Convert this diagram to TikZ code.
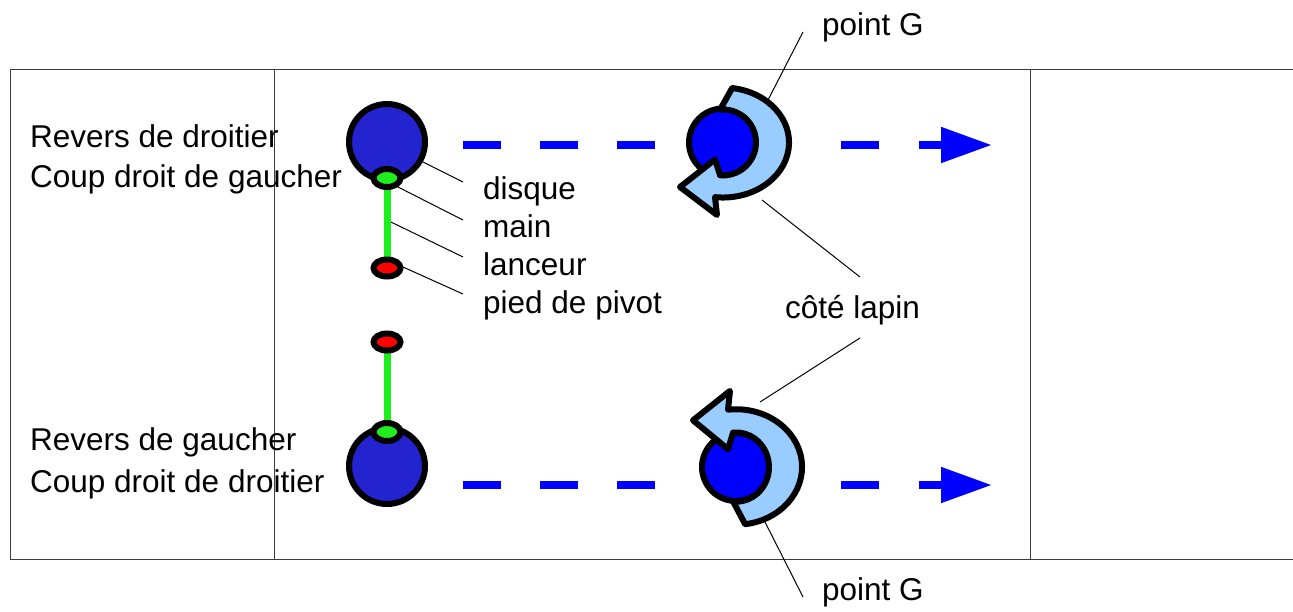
\documentclass[tikz,border=0pt]{standalone}
\usepackage{fontspec}
\setmainfont{Liberation Sans}
\usetikzlibrary{arrows.meta}
\definecolor{discblue}{RGB}{35,35,208}
\definecolor{pureblue}{RGB}{0,0,255}
\definecolor{stickgreen}{RGB}{30,238,30}
\definecolor{bandblue}{RGB}{153,204,255}
\definecolor{framegray}{RGB}{60,60,60}
\begin{document}
\begin{tikzpicture}[x=1pt,y=-1pt,
  lbl/.style={anchor=base west,inner sep=0pt,font=\fontsize{31.5}{38}\selectfont},
  frame/.style={draw=framegray,line width=1pt},
  leader/.style={draw=black,line width=1pt},
  disc/.style={draw=black,line width=6pt,fill=discblue},
  smallell/.style={draw=black,line width=6pt},
  stick/.style={draw=stickgreen,line width=7pt},
  throw/.style={draw=pureblue,line width=8pt,
    dash pattern=on 38pt off 39pt on 38pt off 39pt on 38pt off 186pt on 38pt off 40pt on 400pt off 10pt,
    -{Triangle[length=51pt,width=34pt]}},
  spin/.style={draw=black,line width=6pt,fill=pureblue},
  band/.style={draw=black,line width=6pt,fill=bandblue,line join=round}
]
\useasboundingbox (0,0) rectangle (1293,611);

% frame
\draw[frame] (1293,69) -- (10,69) -- (10,559) -- (1293,559);
\draw[frame] (274,69) -- (274,559);
\draw[frame] (1030,69) -- (1030,559);

% coordinates
\coordinate (Ct) at (723,142.5);
\coordinate (Cb) at (736,467);

% dashed throws
\coordinate (ta) at (463,145);
\coordinate (tb) at (992,145);
\coordinate (ba) at (463,485);
\coordinate (bb) at (992,485);
\draw[throw] (ta) -- (tb);
\draw[throw] (ba) -- (bb);

% top thrower
\node[disc,circle,minimum size=76pt,inner sep=0pt] (disc1) at (387,142) {};
\coordinate (h1) at (387,178);
\coordinate (p1) at (387,268);
\draw[stick] (h1) -- (p1);
\draw[smallell,fill=stickgreen] (h1) ellipse [x radius=13.5, y radius=9];
\draw[smallell,fill=red] (p1) ellipse [x radius=13.5, y radius=8.5];

% bottom thrower
\node[disc,circle,minimum size=76pt,inner sep=0pt] (disc2) at (387,466) {};
\coordinate (h2) at (387,432);
\coordinate (p2) at (387,342);
\draw[stick] (p2) -- (h2);
\draw[smallell,fill=stickgreen] (h2) ellipse [x radius=13.5, y radius=9];
\draw[smallell,fill=red] (p2) ellipse [x radius=13.5, y radius=8.5];

% top spinning disc
\draw[spin] (Ct) circle [radius=34];
\begin{scope}[shift={(Ct)}]
\draw[band] (9.2,-54.5) -- (-2.9,-32.9) arc[start angle=-95, end angle=95, radius=33]
  -- (-8,17) -- (-43,44.5) -- (-6,72.5) -- (-8,54.6)
  arc[start angle=97, end angle=-82, x radius=66, y radius=55] -- cycle;
\end{scope}

% bottom spinning disc
\draw[spin] (Cb) circle [radius=34];
\begin{scope}[shift={(Cb)},yscale=-1.05]
\draw[band] (9.2,-54.5) -- (-2.9,-32.9) arc[start angle=-95, end angle=95, radius=33]
  -- (-8,17) -- (-43,44.5) -- (-6,72.5) -- (-8,54.6)
  arc[start angle=97, end angle=-82, x radius=66, y radius=55] -- cycle;
\end{scope}

% left labels
\node[lbl] (rd) at (30,147) {Revers de droitier};
\node[lbl] (cg) at (30,187) {Coup droit de gaucher};
\node[lbl] (rg) at (30,450) {Revers de gaucher};
\node[lbl] (cd) at (30,492) {Coup droit de droitier};

% part labels
\node[lbl] (ldisque) at (483,199) {disque};
\node[lbl] (lmain) at (483,237) {main};
\node[lbl] (llanceur) at (483,275) {lanceur};
\node[lbl] (lpied) at (483,313) {pied de pivot};

\coordinate (a1) at (423,162); \coordinate (b1) at (463,182);
\coordinate (a2) at (398,187); \coordinate (b2) at (463,220);
\coordinate (a3) at (391,222); \coordinate (b3) at (463,257);
\coordinate (a4) at (403,267); \coordinate (b4) at (463,294);
\draw[leader] (a1) -- (b1);
\draw[leader] (a2) -- (b2);
\draw[leader] (a3) -- (b3);
\draw[leader] (a4) -- (b4);

% right labels
\node[lbl] (gtop) at (822,35) {point G};
\node[lbl] (cote) at (785,318) {côté lapin};
\node[lbl] (gbot) at (822,600) {point G};

\coordinate (g1a) at (803,32); \coordinate (g1b) at (768,100);
\coordinate (c1a) at (860,277); \coordinate (c1b) at (762,200);
\coordinate (c2a) at (860,338); \coordinate (c2b) at (760,402);
\coordinate (g2a) at (803,597); \coordinate (g2b) at (765,522);
\draw[leader] (g1a) -- (g1b);
\draw[leader] (c1a) -- (c1b);
\draw[leader] (c2a) -- (c2b);
\draw[leader] (g2a) -- (g2b);
\end{tikzpicture}
\end{document}
